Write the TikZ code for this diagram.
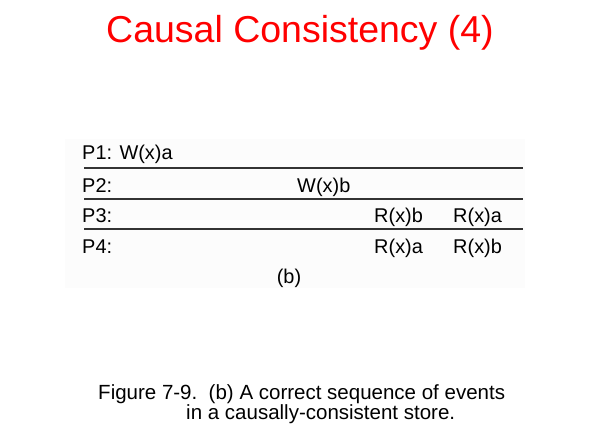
\documentclass[tikz,border=0pt]{standalone}
\usepackage{fontspec}
\setmainfont{Liberation Sans}
\usetikzlibrary{positioning}
\definecolor{titlered}{RGB}{255, 0, 0}
\definecolor{paper}{RGB}{252, 252, 252}

\begin{document}
\begin{tikzpicture}[x=0.03cm, y=-0.03cm,
    entry/.style={anchor=base west, inner sep=0pt, font=\fontsize{17pt}{20pt}\selectfont},
    rowline/.style={line width=0.9pt, black!80}]
  \useasboundingbox (0,0) rectangle (600,435);

  % title
  \node[text=titlered, font=\fontsize{32pt}{38pt}\selectfont, anchor=base] (title) at (300,42) {Causal Consistency (4)};

  % faint scanned panel behind the table
  \fill[paper] (65,139) rectangle (525,288);

  % process rows
  \node[entry] (p1) at (82,159.5) {P1: W(x)a};
  \node[entry] (p2) at (82,192) {P2:};
  \node[entry] (p3) at (82,222) {P3:};
  \node[entry] (p4) at (82,253) {P4:};
  \node[entry] (wb) at (297,192) {W(x)b};
  \node[entry] (rb3) at (374,222) {R(x)b};
  \node[entry] (ra3) at (453,222) {R(x)a};
  \node[entry] (ra4) at (374,253) {R(x)a};
  \node[entry] (rb4) at (453,253) {R(x)b};
  \node[entry, anchor=base] (sub) at (289,283) {(b)};

  % separators
  \coordinate (l1a) at (84,168);  \coordinate (l1b) at (523,168);
  \coordinate (l2a) at (84,199);  \coordinate (l2b) at (523,199);
  \coordinate (l3a) at (84,229);  \coordinate (l3b) at (523,229);
  \draw[rowline] (l1a) -- (l1b);
  \draw[rowline] (l2a) -- (l2b);
  \draw[rowline] (l3a) -- (l3b);

  % caption
  \node[anchor=base west, inner sep=0pt, font=\fontsize{17.5pt}{21pt}\selectfont] (cap1) at (98,399) {Figure 7-9.\ \ (b) A correct sequence of events};
  \node[anchor=base west, inner sep=0pt, font=\fontsize{17.5pt}{21pt}\selectfont] (cap2) at (186,419) {in a causally-consistent store.};
\end{tikzpicture}
\end{document}
